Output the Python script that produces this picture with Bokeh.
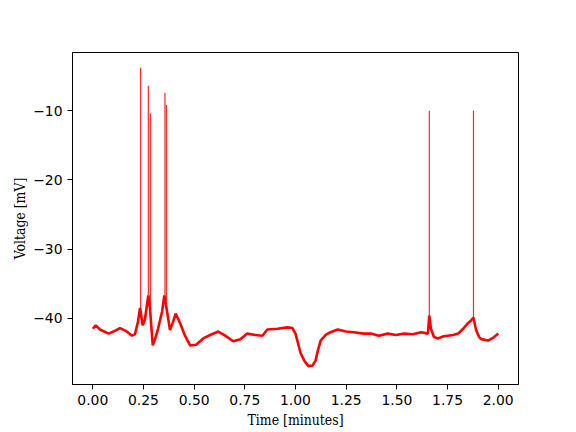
from bokeh.plotting import figure
from bokeh.models import FixedTicker, Range1d
from bokeh.embed import file_html
from bokeh.resources import INLINE

# Voltage trace (time in minutes, voltage in mV)
time_min = [0.000, 0.015, 0.035, 0.079, 0.109, 0.134, 0.163, 0.193, 0.208, 0.223,
            0.233, 0.236, 0.246, 0.257, 0.274, 0.282, 0.296, 0.307, 0.322, 0.342,
            0.353, 0.361, 0.381, 0.396, 0.409, 0.431, 0.455, 0.480, 0.510, 0.545,
            0.579, 0.619, 0.653, 0.693, 0.728, 0.762, 0.802, 0.837, 0.861, 0.911,
            0.960, 0.985, 1.000, 1.025, 1.045, 1.064, 1.084, 1.099, 1.109, 1.124,
            1.149, 1.173, 1.208, 1.248, 1.287, 1.337, 1.371, 1.411, 1.455, 1.495,
            1.535, 1.579, 1.619, 1.653, 1.660, 1.668, 1.683, 1.703, 1.728, 1.752,
            1.777, 1.802, 1.827, 1.851, 1.866, 1.878, 1.891, 1.906, 1.916, 1.950,
            1.980, 2.000]
voltage_mv = [-41.5, -41.0, -41.6, -42.2, -41.8, -41.4, -41.8, -42.5, -42.3, -40.5,
              -38.5, -39.0, -41.0, -40.2, -36.7, -38.5, -43.9, -43.0, -41.5, -39.0,
              -36.7, -38.0, -41.7, -40.5, -39.3, -40.7, -42.5, -43.9, -43.8, -42.9,
              -42.4, -41.9, -42.5, -43.3, -43.0, -42.2, -42.4, -42.5, -41.6, -41.5,
              -41.3, -41.4, -42.2, -45.0, -46.2, -46.9, -46.8, -46.1, -44.8, -43.2,
              -42.4, -42.0, -41.6, -41.9, -42.0, -42.2, -42.2, -42.5, -42.2, -42.4,
              -42.2, -42.3, -42.0, -42.2, -39.6, -41.5, -42.7, -42.9, -42.6, -42.5,
              -42.4, -42.2, -41.5, -40.7, -40.3, -39.9, -41.7, -42.7, -43.0, -43.2,
              -42.7, -42.2]

# Action potentials: time, base and peak voltage
spike_time = [0.236, 0.274, 0.284, 0.356, 0.363, 1.660, 1.878]
spike_base = [-39.0, -36.7, -38.0, -36.7, -37.5, -40.0, -40.0]
spike_peak = [-3.8, -6.4, -10.4, -7.4, -9.2, -10.0, -10.0]

x_ticks = [0.0, 0.25, 0.5, 0.75, 1.0, 1.25, 1.5, 1.75, 2.0]
x_tick_labels = ["0.00", "0.25", "0.50", "0.75", "1.00", "1.25", "1.50", "1.75", "2.00"]
y_ticks = [-40, -30, -20, -10]
y_tick_labels = ["\u221240", "\u221230", "\u221220", "\u221210"]

p = figure(width=568, height=424, output_backend="svg", toolbar_location=None,
           x_range=Range1d(-0.1, 2.1), y_range=Range1d(-49.55, -1.6),
           frame_width=446, frame_height=332,
           min_border_left=72, min_border_right=50, min_border_top=52, min_border_bottom=40)
p.background_fill_color = "white"
p.border_fill_color = "white"
p.outline_line_color = "black"
p.outline_line_width = 1
p.xgrid.visible = False
p.ygrid.visible = False

p.line(time_min, voltage_mv, line_color="red", line_width=2.6)
p.segment(x0=spike_time, y0=spike_base, x1=spike_time, y1=spike_peak,
          line_color="red", line_width=1.2, line_alpha=0.85)

p.xaxis.ticker = FixedTicker(ticks=x_ticks)
p.xaxis.major_label_overrides = {t: l for t, l in zip(x_ticks, x_tick_labels)}
p.yaxis.ticker = FixedTicker(ticks=y_ticks)
p.yaxis.major_label_overrides = {t: l for t, l in zip(y_ticks, y_tick_labels)}

for ax in (p.xaxis, p.yaxis):
    ax.minor_tick_line_color = None
    ax.major_tick_in = 0
    ax.major_tick_out = 5
    ax.major_tick_line_color = "black"
    ax.axis_line_color = "black"
    ax.major_label_text_font = "DejaVu Sans"
    ax.major_label_text_font_size = "13.9px"
    ax.major_label_text_color = "black"
    ax.axis_label_text_font = "DejaVu Serif Condensed"
    ax.axis_label_text_font_size = "13.9px"
    ax.axis_label_text_font_style = "normal"
    ax.axis_label_text_color = "black"
    ax.major_label_standoff = 5

p.xaxis.axis_label = "Time [minutes]"
p.yaxis.axis_label = "Voltage [mV]"
p.xaxis.axis_label_standoff = 4
p.yaxis.axis_label_standoff = 2

open("out.html", "w").write(file_html(p, INLINE))
